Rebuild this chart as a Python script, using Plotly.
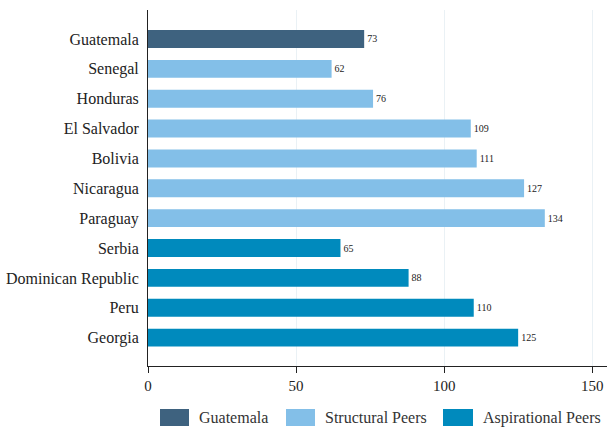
import plotly.graph_objects as go

countries = ["Guatemala", "Senegal", "Honduras", "El Salvador", "Bolivia", "Nicaragua",
             "Paraguay", "Serbia", "Dominican Republic", "Peru", "Georgia"]
values = [73, 62, 76, 109, 111, 127, 134, 65, 88, 110, 125]
groups = ["Guatemala", "Structural Peers", "Structural Peers", "Structural Peers",
          "Structural Peers", "Structural Peers", "Structural Peers",
          "Aspirational Peers", "Aspirational Peers", "Aspirational Peers", "Aspirational Peers"]
group_names = ["Guatemala", "Structural Peers", "Aspirational Peers"]
group_colors = ["#3e627f", "#83bfe8", "#008abd"]
x_ticks = [0, 50, 100, 150]

FONT = "Liberation Serif"
W, H = 609, 429
L, R, T, B = 148, 2, 10, 63

fig = go.Figure()
for g, c in zip(group_names, group_colors):
    ys = [cn for cn, gg in zip(countries, groups) if gg == g]
    xs = [v for v, gg in zip(values, groups) if gg == g]
    fig.add_trace(go.Bar(
        x=xs, y=ys, orientation="h", name=g, marker=dict(color=c, line=dict(width=0)),
        width=0.6, text=[str(v) for v in xs], textposition="outside",
        textfont=dict(family=FONT, size=10, color="#222"), cliponaxis=False,
        showlegend=False,
    ))

# custom legend (pixel positions converted to paper coords)
def px(xp):
    return (xp - L) / (W - L - R)

def py(yp):
    return (H - B - yp) / (H - T - B)

legend_boxes = [(160, 189, 197), (286, 315, 323), (443, 473, 481)]
for (x0, x1, tx), g, c in zip(legend_boxes, group_names, group_colors):
    fig.add_shape(type="rect", xref="paper", yref="paper",
                  x0=px(x0), x1=px(x1), y0=py(426), y1=py(409),
                  fillcolor=c, line=dict(width=0))
    fig.add_annotation(xref="paper", yref="paper", x=px(tx), y=py(417.5),
                       text=g, showarrow=False, xanchor="left", yanchor="middle",
                       font=dict(family=FONT, size=16, color="#333"))

fig.update_layout(
    width=W, height=H, margin=dict(l=L, r=R, t=T, b=B),
    paper_bgcolor="white", plot_bgcolor="white",
    barmode="overlay",
    font=dict(family=FONT, size=16, color="#222"),
    xaxis=dict(range=[0, 155], tickvals=x_ticks, showgrid=True, gridcolor="#eaf1f5",
               gridwidth=1, zeroline=False, showline=True, linecolor="#222", linewidth=1,
               ticks="outside", ticklen=6, tickcolor="#222",
               tickfont=dict(family=FONT, size=15, color="#222")),
    yaxis=dict(categoryorder="array", categoryarray=countries[::-1],
               range=[-0.95, 10.97], showgrid=False, zeroline=False,
               showline=True, linecolor="#222", linewidth=1, ticks="",
               ticklabelstandoff=5,
               tickfont=dict(family=FONT, size=16, color="#222")),
)

fig.write_html("out.html", config={"displayModeBar": False},
               post_script="document.body.style.margin='0';")
